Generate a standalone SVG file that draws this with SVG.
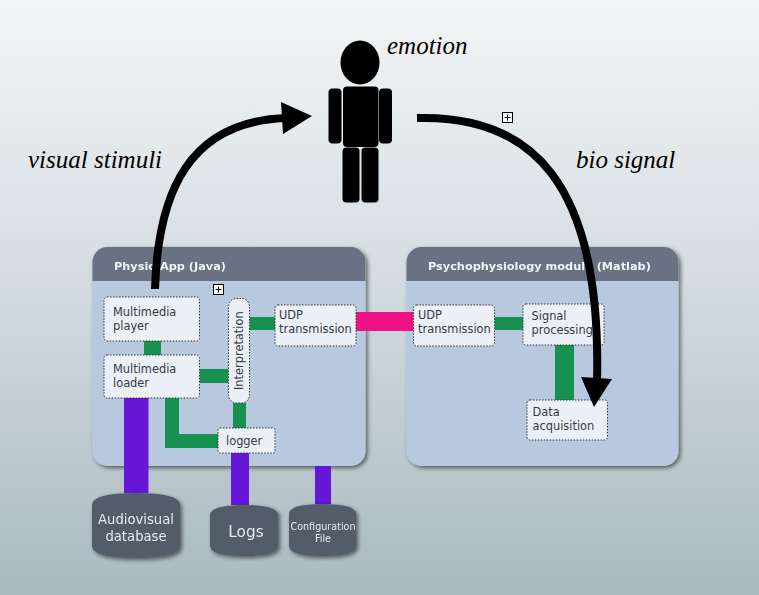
<svg xmlns="http://www.w3.org/2000/svg" width="759" height="595" viewBox="0 0 759 595">
<style>
.panel{fill:#b8c9df}
.head{fill:#677283}
.box{fill:#ebf0f7;stroke:#333;stroke-width:1;stroke-dasharray:1.5 1.5}
.t{font-family:"DejaVu Sans",sans-serif;font-size:11.4px;fill:#333b45}
.h{font-family:"DejaVu Sans",sans-serif;font-size:11.3px;font-weight:bold;fill:#f0f3f7}
.w{font-family:"DejaVu Sans",sans-serif;fill:#e8ebef;text-anchor:middle}
.s{font-family:"Liberation Serif",serif;font-style:italic;font-size:25px;fill:#000}
.g{fill:#17914f}.p{fill:#6516d6}
.db{fill:#525b69}
.arrow{fill:none;stroke:#000;stroke-width:8}
.plus{fill:#fff;stroke:#000;stroke-width:1}
</style>
<defs>
<linearGradient id="bg" x1="0" y1="0" x2="0" y2="1"><stop offset="0" stop-color="#f3f5f6"/><stop offset="0.4" stop-color="#d9e0e4"/><stop offset="1" stop-color="#a9bac1"/></linearGradient>
<filter id="sh" x="-10%" y="-10%" width="120%" height="120%"><feDropShadow dx="2" dy="2" stdDeviation="2" flood-color="#000" flood-opacity="0.55"/></filter>
<g id="plusicon"><rect class="plus" x="-5" y="-5" width="10" height="10"/><path d="M-3 0H3M0-3V3" stroke="#000" fill="none"/></g>
</defs>
<rect width="759" height="595" fill="url(#bg)"/>

<g id="panel-java" filter="url(#sh)">
<rect class="panel" x="92.500" y="247" width="273" height="219" rx="15"/>
<path class="head" d="M92.500 281V262a15 15 0 0 1 15-15H350.500a15 15 0 0 1 15 15V281Z"/>
<text class="h" x="114" y="270">Physio App (Java)</text>
</g>
<g id="panel-matlab" filter="url(#sh)">
<rect class="panel" x="406.500" y="247" width="272" height="219" rx="15"/>
<path class="head" d="M406.500 281V262a15 15 0 0 1 15-15H663.500a15 15 0 0 1 15 15V281Z"/>
<text class="h" x="428" y="270">Psychophysiology module (Matlab)</text>
</g>

<g id="connectors">
<rect class="g" x="144" y="341" width="17" height="14"/>
<rect class="g" x="199.500" y="369" width="29" height="14"/>
<rect class="g" x="249.500" y="317" width="25.500" height="13"/>
<rect class="g" x="233" y="403" width="13" height="25"/>
<path class="g" d="M165 398H179V434H218V448H165Z"/>
<rect class="g" x="494.500" y="317" width="28.500" height="13"/>
<rect class="g" x="555" y="345" width="19" height="55"/>
<rect x="356" y="312" width="57.500" height="19" fill="#ee1285"/>
<rect class="p" x="124" y="398" width="24.500" height="95"/>
<rect class="p" x="231" y="453" width="18" height="52"/>
<rect class="p" x="315" y="466" width="16" height="38"/>
</g>

<g id="multimedia-player"><rect class="box" x="104" y="297" width="95.500" height="44" rx="3"/><text class="t" x="113" y="316">Multimedia</text><text class="t" x="113" y="330">player</text></g>
<g id="multimedia-loader"><rect class="box" x="104" y="355" width="95.500" height="43" rx="3"/><text class="t" x="113" y="373">Multimedia</text><text class="t" x="113" y="387">loader</text></g>
<g id="interpretation"><rect class="box" x="228.500" y="298.500" width="21" height="104.500" rx="8"/><text class="t" transform="translate(243 390) rotate(-90)">Interpretation</text></g>
<g id="udp-left"><rect class="box" x="275" y="305" width="81" height="41" rx="3"/><text class="t" x="279" y="319">UDP</text><text class="t" x="279" y="333">transmission</text></g>
<g id="logger"><rect class="box" x="218" y="428" width="57" height="25" rx="2"/><text class="t" x="226" y="445">logger</text></g>
<g id="udp-right"><rect class="box" x="413.500" y="305" width="81" height="41" rx="3"/><text class="t" x="418" y="319">UDP</text><text class="t" x="418" y="333">transmission</text></g>
<g id="signal-processing"><rect class="box" x="523" y="304" width="81" height="41" rx="3"/><text class="t" x="531.500" y="320">Signal</text><text class="t" x="531.500" y="334">processing</text></g>
<g id="data-acquisition"><rect class="box" x="527" y="400" width="80.500" height="40" rx="3"/><text class="t" x="532.500" y="416">Data</text><text class="t" x="532.500" y="430">acquisition</text></g>

<g id="audiovisual-database" filter="url(#sh)"><path class="db" d="M92 505Q92 493 136 493Q180 493 180 505V546Q180 558 136 558Q92 558 92 546Z"/><text class="w" x="136" y="524" font-size="13.200">Audiovisual</text><text class="w" x="136" y="541" font-size="13.200">database</text></g>
<g id="logs" filter="url(#sh)"><path class="db" d="M210 515Q210 505 244 505Q278 505 278 515V546Q278 556 244 556Q210 556 210 546Z"/><text class="w" x="246" y="537" font-size="15.300">Logs</text></g>
<g id="configuration-file" filter="url(#sh)"><path class="db" d="M289 514Q289 504 322.500 504Q356 504 356 514V546Q356 556 322.500 556Q289 556 289 546Z"/><text class="w" x="323" y="530" font-size="9.600">Configuration</text><text class="w" x="323" y="542" font-size="9.600">File</text></g>

<g id="person">
<ellipse cx="360" cy="62.500" rx="19.500" ry="22"/>
<rect x="343" y="86.500" width="35.500" height="60.500" rx="4"/>
<rect x="328.500" y="88.500" width="13" height="55" rx="4"/>
<rect x="379" y="88.500" width="13" height="55" rx="4"/>
<rect x="342.500" y="147.500" width="17" height="55" rx="4"/>
<rect x="361.500" y="147.500" width="17" height="55" rx="4"/>
</g>
<text class="s" x="387" y="54">emotion</text>
<text class="s" x="28" y="168">visual stimuli</text>
<text class="s" x="576" y="168">bio signal</text>

<g id="arrows">
<path class="arrow" d="M155 289C158 190 190 122 285 118"/>
<path d="M281 102L312 116L283 134Z"/>
<path class="arrow" d="M417 118C530 115 602 180 597 382"/>
<path d="M581 377L612 379L594 407Z"/>
</g>
<use href="#plusicon" x="218.500" y="289.500"/>
<use href="#plusicon" x="507.500" y="117.500"/>
</svg>
